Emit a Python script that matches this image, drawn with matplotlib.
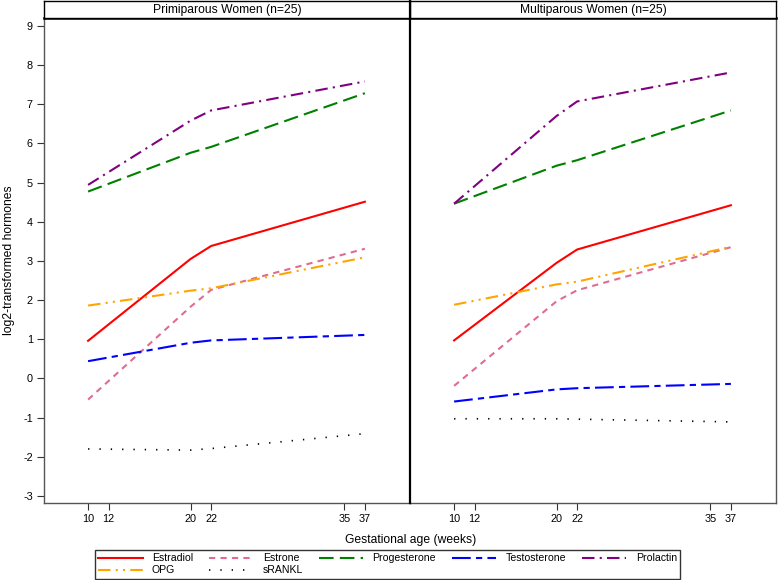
import matplotlib.pyplot as plt
from matplotlib.lines import Line2D

plt.rcParams['font.family'] = ['Liberation Sans', 'DejaVu Sans']
plt.rcParams['axes.unicode_minus'] = False

weeks = [10, 20, 22, 37]
xticks = [10, 12, 20, 22, 35, 37]
yticks = list(range(-3, 10))
panel_titles = ['Primiparous Women (n=25)', 'Multiparous Women (n=25)']
hormones = ['Estradiol', 'Estrone', 'Progesterone', 'Testosterone', 'Prolactin', 'OPG', 'sRANKL']

# primiparous
estradiol_p = [0.96, 3.05, 3.38, 4.51]
estrone_p = [-0.54, 1.83, 2.26, 3.31]
progesterone_p = [4.77, 5.76, 5.91, 7.28]
testosterone_p = [0.44, 0.91, 0.97, 1.11]
prolactin_p = [4.94, 6.58, 6.84, 7.58]
opg_p = [1.86, 2.24, 2.30, 3.09]
srankl_p = [-1.80, -1.83, -1.79, -1.41]

# multiparous
estradiol_m = [0.97, 2.95, 3.29, 4.42]
estrone_m = [-0.19, 1.97, 2.25, 3.35]
progesterone_m = [4.46, 5.43, 5.57, 6.84]
testosterone_m = [-0.59, -0.28, -0.25, -0.14]
prolactin_m = [4.46, 6.70, 7.07, 7.81]
opg_m = [1.88, 2.40, 2.47, 3.36]
srankl_m = [-1.03, -1.03, -1.04, -1.11]

data = [
    [estradiol_p, estrone_p, progesterone_p, testosterone_p, prolactin_p, opg_p, srankl_p],
    [estradiol_m, estrone_m, progesterone_m, testosterone_m, prolactin_m, opg_m, srankl_m],
]

colors = ['#ff0000', '#e06c8f', '#008000', '#0000ff', '#800080', '#ffa500', '#000000']
styles = ['-', (0, (3, 2.5)), (0, (7, 3)), (0, (9, 2.5, 3, 2.5)),
          (0, (6, 2.5, 1, 2.5)), (0, (6, 2.5, 1, 2.5, 1, 2.5)), (0, (0.8, 6))]
widths = [1.5, 1.5, 1.5, 1.5, 1.5, 1.5, 1.2]

W, H = 778, 580
fig = plt.figure(figsize=(W / 100, H / 100), dpi=100)

lefts = [44, 410]
pw = 366
top, bottom = 18, 503

for i in range(2):
    ax = fig.add_axes([lefts[i] / W, 1 - bottom / H, pw / W, (bottom - top) / H])
    for j in range(len(hormones)):
        ax.plot(weeks, data[i][j], color=colors[j], linestyle=styles[j], lw=widths[j])
    ax.set_xlim(5.7, 41.4)
    ax.set_ylim(-3.18, 9.2)
    ax.set_xticks(xticks)
    ax.set_yticks(yticks)
    ax.tick_params(direction='out', length=5, width=0.8, pad=3, colors='#333333',
                   labelcolor='black', labelsize=7.8)
    if i == 1:
        ax.tick_params(axis='y', left=False, labelleft=False)
    for s in ['left', 'bottom', 'right']:
        ax.spines[s].set_color('#555555')
        ax.spines[s].set_linewidth(1.0)
    ax.spines['top'].set_linewidth(1.8)
    if i == 1:
        ax.spines['left'].set_visible(False)

    hx = fig.add_axes([lefts[i] / W, 1 - 18 / H, pw / W, 17 / H])
    hx.set_xticks([])
    hx.set_yticks([])
    for s in hx.spines.values():
        s.set_linewidth(1.0)
    hx.text(0.5, 0.48, panel_titles[i], ha='center', va='center', transform=hx.transAxes, fontsize=8.7)

# divider between the panels
fig.add_artist(Line2D([410 / W, 410 / W], [1 - 503 / H, 1 - 1 / H], transform=fig.transFigure,
                      color='black', lw=1.6))

fig.text(411 / W, 1 - 540 / H, 'Gestational age (weeks)', ha='center', va='center', fontsize=8.7)
fig.text(9 / W, 1 - 260 / H, 'log2-transformed hormones', rotation=90, ha='center', va='center', fontsize=8.7)

order = [0, 5, 1, 6, 2, 3, 4]
handles = [Line2D([], [], color=colors[k], linestyle=styles[k], lw=widths[k]) for k in order]
labels = [hormones[k] for k in order]
leg = fig.legend(handles, labels, ncol=5, loc='lower left', mode='expand',
                 bbox_to_anchor=(95 / W, 1 - 578.5 / H, 585 / W, 27 / H), frameon=True, fancybox=False,
                 edgecolor='black', handlelength=4.2, handletextpad=0.9, columnspacing=1.2,
                 borderpad=0.3, labelspacing=0.2, fontsize=7.6, borderaxespad=0)
leg.get_frame().set_linewidth(1.0)

fig.savefig('out.png', dpi=100)
